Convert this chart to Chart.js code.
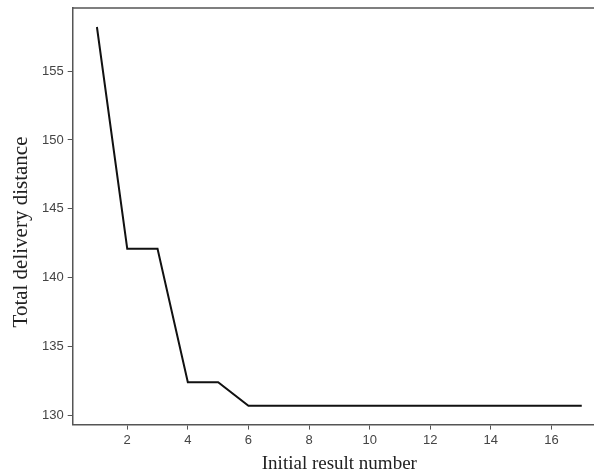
<!DOCTYPE html>
<html>
<head>
<meta charset="utf-8">
<script src="https://cdn.jsdelivr.net/npm/chart.js@4/dist/chart.umd.min.js"></script>
<style>
  html, body { margin: 0; padding: 0; background: #fff; overflow: hidden; }
  #wrap { width: 612px; height: 475px; }
</style>
</head>
<body>
<div id="wrap"><canvas id="canvas" width="612" height="475"></canvas></div>
<script>
// numero de resultado inicial y distancia total
const resultNumbers = [1, 2, 3, 4, 5, 6, 7, 8, 9, 10, 11, 12, 13, 14, 15, 16, 17];
const distances = [158.2, 142.1, 142.1, 132.4, 132.4, 130.7, 130.7, 130.7, 130.7, 130.7, 130.7, 130.7, 130.7, 130.7, 130.7, 130.7, 130.7];
const xTicks = [2, 4, 6, 8, 10, 12, 14, 16];
const yTicks = [130, 135, 140, 145, 150, 155];
const yTitle = 'Total delivery distance';

const axisColor = '#555';

// linea superior del marco y titulo del eje y
const extras = {
    id: 'extras',
    afterDraw(chart) {
        const a = chart.chartArea;
        const ctx = chart.ctx;
        ctx.save();
        ctx.strokeStyle = axisColor;
        ctx.lineWidth = 1.5;
        ctx.beginPath();
        ctx.moveTo(a.left, a.top);
        ctx.lineTo(a.right, a.top);
        ctx.stroke();
        ctx.translate(21, 232);
        ctx.rotate(-Math.PI / 2);
        ctx.fillStyle = '#222';
        ctx.font = '21px "Liberation Serif"';
        ctx.textAlign = 'center';
        ctx.textBaseline = 'middle';
        ctx.fillText(yTitle, 0, 0);
        ctx.restore();
    }
};

let data = {};
data["datasets"] = [{
    data: resultNumbers.map((x, i) => ({x: x, y: distances[i]})),
    borderColor: '#111',
    borderWidth: 2,
    pointRadius: 0,
    tension: 0,
    fill: false
}];

let options = {
    responsive: false,
    animation: false,
    layout: {padding: {top: 8, right: 6, left: 38, bottom: 0}},
    plugins: {legend: {display: false}, tooltip: {enabled: false}},
    scales: {
        x: {
            type: 'linear',
            min: 0.2,
            max: 17.8,
            afterBuildTicks: axis => { axis.ticks = xTicks.map(v => ({value: v})); },
            grid: {drawOnChartArea: false, drawTicks: true, tickLength: 5, color: axisColor},
            border: {display: true, color: axisColor, width: 1.5},
            ticks: {color: '#444', font: {family: 'Liberation Sans', size: 13}, padding: 3, maxRotation: 0},
            title: {
                display: true,
                text: 'Initial result number',
                color: '#222',
                font: {family: 'Liberation Serif', size: 19},
                padding: {top: 1, bottom: 0}
            }
        },
        y: {
            type: 'linear',
            min: 129.33,
            max: 159.58,
            afterBuildTicks: axis => { axis.ticks = yTicks.map(v => ({value: v})); },
            afterFit: axis => { axis.paddingTop = 0; },
            grid: {drawOnChartArea: false, drawTicks: true, tickLength: 5, color: axisColor},
            border: {display: true, color: axisColor, width: 1.5},
            ticks: {color: '#444', font: {family: 'Liberation Sans', size: 13}, padding: 4}
        }
    }
};

function dibujarGrafico(){
    let ctx = document.getElementById("canvas").getContext('2d');
    new Chart(ctx, {type: 'line', data: data, options: options, plugins: [extras]});
}
dibujarGrafico();
</script>
</body>
</html>
